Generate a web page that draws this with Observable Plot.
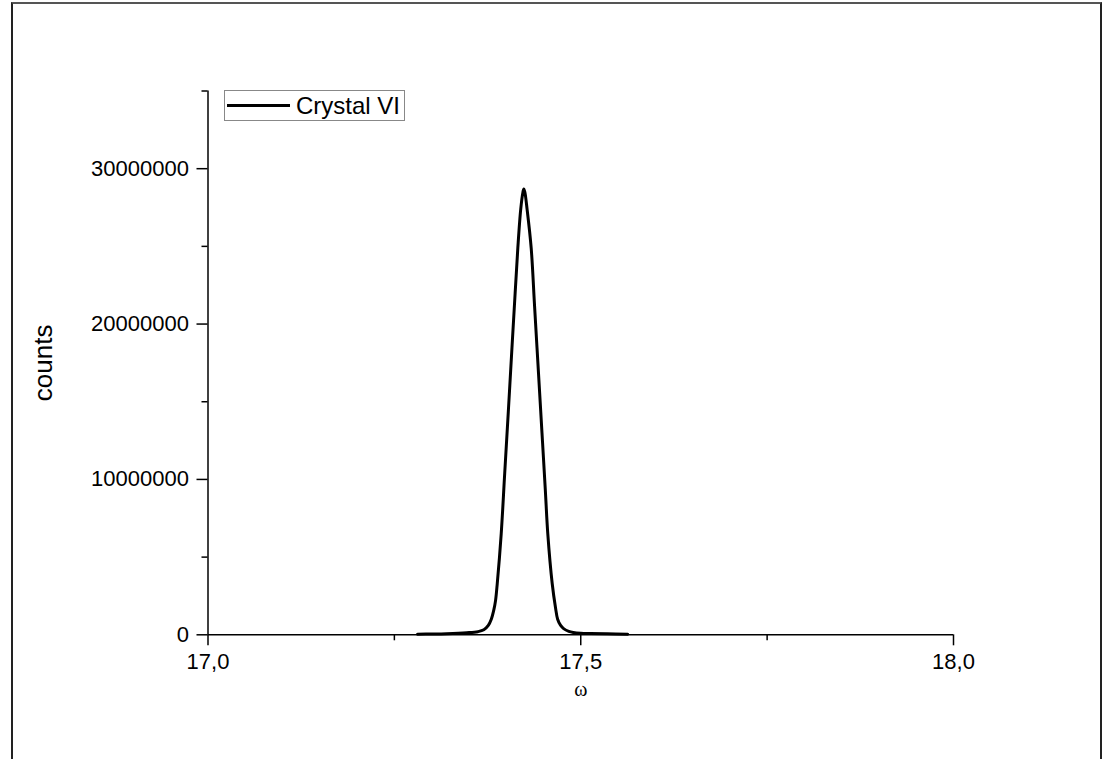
<!DOCTYPE html>
<html>
<head>
<meta charset="utf-8">
<script src="https://cdn.jsdelivr.net/npm/d3@7"></script>
<script src="https://cdn.jsdelivr.net/npm/@observablehq/plot@0.6"></script>
<style>
  html, body { margin: 0; padding: 0; background: #fff; }
  #wrap { position: relative; width: 1110px; height: 759px; overflow: hidden; font-family: "Liberation Sans", Arial, sans-serif; }
  #frame { position: absolute; left: 11px; top: 2px; width: 1091px; height: 800px; border: 2px solid #222; border-top-color: #555; box-sizing: border-box; pointer-events: none; }
  #legend { position: absolute; left: 224px; top: 90px; height: 31px; border: 1px solid #888; background: #fff; display: flex; align-items: center; padding: 0 4px 0 2px; box-sizing: border-box; }
  #legend .sw { width: 63px; height: 3px; background: #000; margin-right: 6px; }
  #legend .lb { font-size: 24px; color: #000; line-height: 28px; }
</style>
</head>
<body>
<div id="wrap">
  <div id="chart"></div>
  <div id="frame"></div>
</div>
<script>
// Data
const seriesName = "Crystal VI";
const omega = [17.281, 17.300, 17.320, 17.347, 17.362, 17.370, 17.376, 17.380, 17.3834, 17.3857, 17.388, 17.3933, 17.398, 17.403, 17.408, 17.412, 17.4156, 17.4195, 17.4225, 17.4236, 17.425, 17.428, 17.4335, 17.438, 17.443, 17.448, 17.4525, 17.4558, 17.4617, 17.4661, 17.469, 17.473, 17.477, 17.484, 17.490, 17.500, 17.513, 17.535, 17.563];
const counts = [40000, 50000, 70000, 130000, 200000, 320000, 600000, 1000000, 1600000, 2200000, 3300000, 6500000, 10400000, 14500000, 18700000, 22000000, 24900000, 27400000, 28500000, 28700000, 28500000, 27400000, 24900000, 21200000, 17100000, 13000000, 9300000, 6500000, 3300000, 1760000, 1000000, 600000, 400000, 220000, 150000, 100000, 80000, 60000, 40000];
const xMajorTicks = [17.0, 17.5, 18.0];
const xMinorTicks = [17.25, 17.75];
const yMajorTicks = [0, 10000000, 20000000, 30000000];
const yMinorTicks = [5000000, 15000000, 25000000, 35000000];
const xDomain = [17.0, 18.0];
const yDomain = [0, 35000000];
const xTitle = "ω";
const yTitle = "counts";

const data = omega.map((w, i) => ({omega: w, counts: counts[i]}));
const fmtX = d => d.toFixed(1).replace(".", ",");
const fmtY = d3.format("d");

const chart = Plot.plot({
  width: 1110,
  height: 759,
  marginLeft: 207.5,
  marginRight: 157,
  marginTop: 90.5,
  marginBottom: 124.7,
  style: {fontFamily: "Liberation Sans, Arial, sans-serif", fontSize: "22px", color: "#000", background: "transparent"},
  x: {domain: xDomain, axis: null},
  y: {domain: yDomain, axis: null},
  marks: [
    Plot.line(data, {x: "omega", y: "counts", stroke: "#000", strokeWidth: 3, curve: "catmull-rom"}),
    Plot.ruleY([0], {stroke: "#000", strokeWidth: 1.5}),
    Plot.ruleX([17.0], {stroke: "#000", strokeWidth: 1.5}),
    Plot.axisX(xMajorTicks, {tickSize: 11, tickPadding: 8, tickFormat: fmtX, fontSize: 22, strokeWidth: 1.5, label: null}),
    Plot.axisX(xMinorTicks, {tickSize: 6, tickFormat: () => "", strokeWidth: 1.5, label: null}),
    Plot.axisY(yMajorTicks, {tickSize: 11, tickPadding: 8, tickFormat: fmtY, fontSize: 22, strokeWidth: 1.5, label: null}),
    Plot.axisY(yMinorTicks, {tickSize: 6, tickFormat: () => "", strokeWidth: 1.5, label: null}),
    Plot.text([yTitle], {frameAnchor: "left", dx: -164, rotate: -90, fontSize: 26, textAnchor: "middle"}),
    Plot.text([xTitle], {frameAnchor: "bottom", dy: 61, fontSize: 20, fontFamily: "Liberation Serif, Times New Roman, serif"})
  ]
});
document.getElementById("chart").appendChild(chart);

const legend = document.createElement("div");
legend.id = "legend";
legend.innerHTML = '<div class="sw"></div><div class="lb"></div>';
legend.querySelector(".lb").textContent = seriesName;
document.getElementById("wrap").appendChild(legend);
</script>
</body>
</html>
